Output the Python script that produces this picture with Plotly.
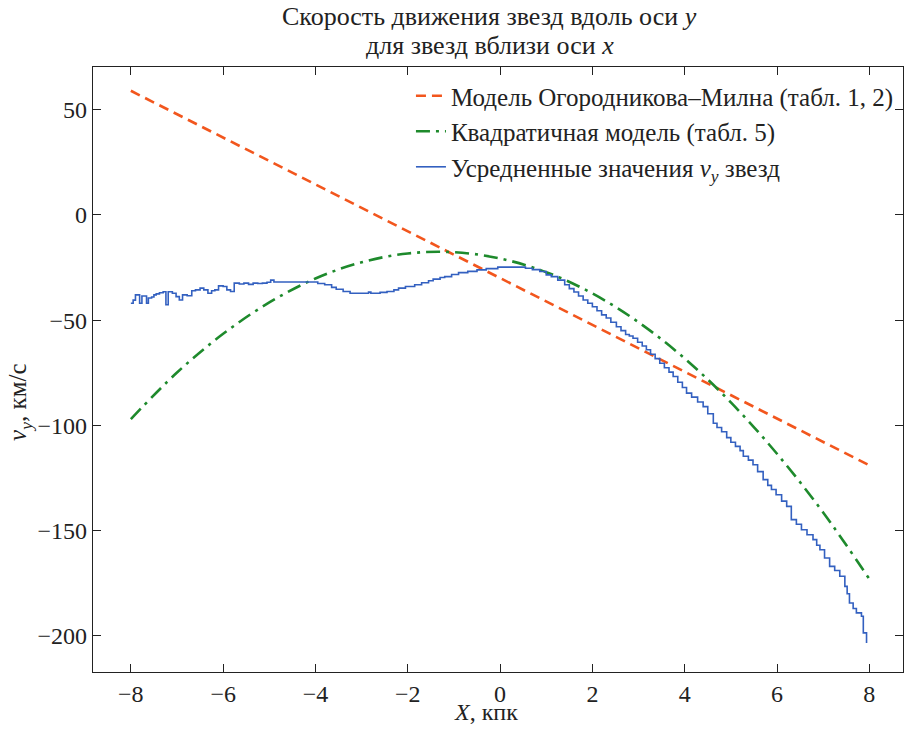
import plotly.graph_objects as go

# Model of Ogorodnikov–Milne (linear)
om_x = [-8.0, 8.0]
om_y = [59.0, -119.0]

# Quadratic model
q_x = [-8, -7, -6, -5, -4, -3, -2, -1, 0, 1, 2, 3, 4, 5, 6, 7, 8]
q_y = [-97.0, -74.9, -56.5, -41.6, -30.2, -22.5, -18.3, -17.7, -20.7,
       -27.2, -37.3, -51.0, -68.2, -89.1, -113.5, -141.4, -173.0]

# Averaged stellar v_y
avg_x = [-8.00, -7.95, -7.90, -7.85, -7.81, -7.76, -7.70, -7.66, -7.62, -7.55,
         -7.50, -7.45, -7.38, -7.30, -7.24, -7.19, -7.10, -7.02, -6.95, -6.88,
         -6.78, -6.68, -6.60, -6.50, -6.42, -6.33, -6.25, -6.18, -6.10, -6.00,
         -5.92, -5.84, -5.76, -5.65, -5.55, -5.45, -5.35, -5.25, -5.15, -5.05,
         -4.97, -4.90, -4.70, -4.50, -4.30, -4.10, -3.95, -3.80, -3.65, -3.55,
         -3.40, -3.25, -3.05, -2.85, -2.80, -2.60, -2.45, -2.30, -2.20, -2.05,
         -1.85, -1.70, -1.55, -1.45, -1.30, -1.20, -1.05, -0.90, -0.70, -0.50,
         -0.30, -0.05, 0.20, 0.40, 0.55, 0.70, 0.86, 1.00, 1.11, 1.25,
         1.40, 1.50, 1.60, 1.70, 1.80, 1.90, 2.00, 2.10, 2.20, 2.30,
         2.40, 2.52, 2.62, 2.72, 2.80, 2.88, 2.98, 3.08, 3.17, 3.26,
         3.36, 3.46, 3.56, 3.66, 3.75, 3.85, 3.95, 4.04, 4.15, 4.28,
         4.40, 4.50, 4.62, 4.70, 4.80, 4.91, 5.00, 5.10, 5.20, 5.27,
         5.38, 5.48, 5.58, 5.70, 5.80, 5.88, 5.98, 6.10, 6.21, 6.31,
         6.42, 6.53, 6.65, 6.78, 6.86, 6.93, 7.03, 7.14, 7.25, 7.36,
         7.47, 7.52, 7.57, 7.65, 7.72, 7.83, 7.87, 7.94]
avg_y = [-42.0, -40.5, -38.0, -38.0, -42.0, -38.5, -38.5, -42.0, -39.5, -39.0,
         -38.0, -37.5, -37.0, -36.5, -42.7, -36.5, -37.2, -38.8, -40.4, -38.0,
         -38.4, -36.0, -35.6, -34.8, -35.6, -37.2, -36.0, -35.6, -33.7, -34.0,
         -35.6, -36.4, -32.4, -32.8, -32.4, -33.0, -32.4, -32.6, -32.4, -32.0,
         -31.0, -31.9, -31.9, -31.9, -31.9, -31.9, -32.6, -33.2, -34.4, -35.3,
         -36.4, -37.2, -37.2, -36.7, -37.2, -36.8, -36.4, -35.6, -34.8, -34.0,
         -33.2, -32.2, -31.3, -30.5, -29.7, -29.3, -28.3, -27.4, -26.8, -26.1,
         -25.5, -24.8, -24.8, -24.8, -25.3, -26.0, -26.9, -28.5, -29.3, -31.0,
         -33.2, -35.0, -36.6, -38.5, -40.4, -42.0, -43.6, -45.5, -47.5, -49.0,
         -51.0, -53.1, -55.0, -56.8, -57.5, -58.6, -60.5, -62.3, -64.1, -66.2,
         -68.3, -70.5, -72.6, -74.7, -76.8, -79.5, -82.0, -84.7, -86.6, -88.9,
         -91.1, -94.5, -99.0, -101.0, -103.0, -105.8, -108.0, -110.0, -112.0, -114.7,
         -116.5, -118.7, -122.0, -125.8, -128.5, -130.5, -133.0, -136.0, -138.5, -144.8,
         -147.0, -149.6, -152.0, -154.3, -157.0, -159.1, -163.0, -167.0, -169.0, -171.7,
         -176.5, -180.0, -184.4, -187.0, -189.1, -190.7, -198.6, -203.4]

x_ticks = [-8, -6, -4, -2, 0, 2, 4, 6, 8]
y_ticks = [50, 0, -50, -100, -150, -200]

title_lines = ["Скорость движения звезд вдоль оси <i>y</i>",
               "для звезд вблизи оси <i>x</i>"]
x_title = "<i>X</i>, кпк"
y_title = "<i>v<sub>y</sub></i>, км/с"

FONT = "Liberation Serif"
INK = "#222222"

fig = go.Figure()
fig.add_trace(go.Scatter(
    x=om_x, y=om_y, mode="lines",
    name="Модель Огородникова–Милна (табл. 1, 2)",
    line=dict(color="#f2561d", width=2.6, dash="10px,6px"),
))
fig.add_trace(go.Scatter(
    x=q_x, y=q_y, mode="lines", line_shape="spline",
    name="Квадратичная модель (табл. 5)",
    line=dict(color="#1e8a2c", width=2.6, dash="14px,6px,3px,6px"),
))
fig.add_trace(go.Scatter(
    x=avg_x, y=avg_y, mode="lines", line_shape="hv",
    name="Усредненные значения <i>v<sub>y</sub></i> звезд",
    line=dict(color="#3360c0", width=1.6),
))

axis_common = dict(
    showline=True, linecolor=INK, linewidth=1.3, mirror="ticks",
    ticks="inside", ticklen=8, tickwidth=1.2, tickcolor=INK,
    showgrid=False, zeroline=False,
    tickfont=dict(family=FONT, size=24, color=INK),
)

for txt, yp in zip(title_lines, [1.083, 1.036]):
    fig.add_annotation(
        text=txt, xref="paper", yref="paper", x=0.49, y=yp,
        xanchor="center", yanchor="middle", showarrow=False,
        font=dict(family=FONT, size=26, color=INK),
    )
fig.add_annotation(
    text=x_title, xref="paper", yref="paper", x=0.485, y=-0.066,
    xanchor="center", yanchor="middle", showarrow=False,
    font=dict(family=FONT, size=24, color=INK),
)
fig.add_annotation(
    text=y_title, xref="paper", yref="paper", x=-0.09, y=0.445,
    xanchor="center", yanchor="middle", showarrow=False, textangle=-90,
    font=dict(family=FONT, size=25, color=INK),
)

fig.update_layout(
    template="none",
    width=907, height=730,
    margin=dict(l=93, r=4, t=67, b=58),
    paper_bgcolor="white", plot_bgcolor="white",
    font=dict(family=FONT, size=24, color=INK),
    showlegend=True,
    legend=dict(
        x=0.995, xanchor="right", y=0.99, yanchor="top",
        bgcolor="rgba(0,0,0,0)", borderwidth=0,
        font=dict(family=FONT, size=25, color=INK),
        tracegroupgap=0, itemwidth=30,
    ),
    xaxis=dict(range=[-8.82, 8.73], tickvals=x_ticks, **axis_common),
    yaxis=dict(range=[-217.2, 70.3], tickvals=y_ticks, **axis_common),
)

fig.write_html("out.html")
